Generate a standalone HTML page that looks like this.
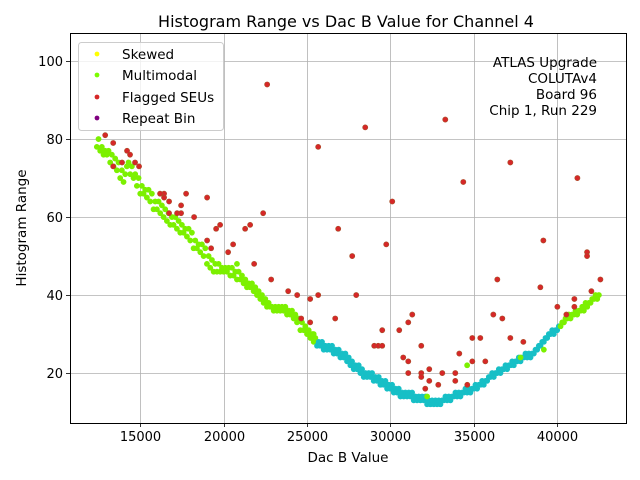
<!DOCTYPE html>
<html><head><meta charset="utf-8"><style>
html,body{margin:0;padding:0;background:#fff;}
svg{display:block;font-family:"DejaVu Sans","Liberation Sans",sans-serif;}
</style></head><body>
<svg id="chart" width="640" height="480" viewBox="0 0 640 480" xmlns="http://www.w3.org/2000/svg">
<rect x="0" y="0" width="640" height="480" fill="#fff"/>
<text x="346" y="27" font-size="16" text-anchor="middle">Histogram Range vs Dac B Value for Channel 4</text>
<g id="grid"></g>
<g id="ticks"></g>
<g id="marks"></g>
<rect x="70.5" y="33.5" width="556" height="390" fill="none" stroke="#000" stroke-width="1"/>
<text x="348" y="462" font-size="13.5" text-anchor="middle">Dac B Value</text>
<text x="26" y="228" font-size="13.5" text-anchor="middle" transform="rotate(-90 26 228)">Histogram Range</text>
<g>
<rect x="78.5" y="42.5" width="145" height="88" rx="3" fill="#fff" fill-opacity="0.8" stroke="#ccc"/>
<circle cx="97" cy="54" r="2.4" fill="#ffff00"/>
<text x="122" y="59" font-size="13.5">Skewed</text>
<circle cx="97" cy="75" r="2.4" fill="#7cfc00"/>
<text x="122" y="80" font-size="13.5">Multimodal</text>
<circle cx="97" cy="97" r="2.4" fill="#d62728"/>
<text x="122" y="102" font-size="13.5">Flagged SEUs</text>
<circle cx="97" cy="118" r="2.4" fill="#800080"/>
<text x="122" y="123" font-size="13.5">Repeat Bin</text>
</g>
<g font-size="13.5" text-anchor="end">
<text x="597" y="67">ATLAS Upgrade</text>
<text x="597" y="83">COLUTAv4</text>
<text x="597" y="99">Board 96</text>
<text x="597" y="115">Chip 1, Run 229</text>
</g>
</svg>
<script>
const xTicks=[15000,20000,25000,30000,35000,40000];
const yTicks=[20,40,60,80,100];
const mainDac=[12400,12600,12800,13000,13200,13400,13600,13800,14000,14200,14400,14600,14800,15000,15200,15400,15600,15800,16000,16200,16400,16600,16800,17000,17200,17400,17600,17800,18000,18200,18400,18600,18800,19000,19200,19400,19600,19800,20000,20200,20400,20600,20800,21000,21200,21400,21600,21800,22000,22200,22400,22600,22800,23000,23200,23400,23600,23800,24000,24200,24400,24600,24800,25000,25200,25400,25600,25800,26000,26200,26400,26600,26800,27000,27200,27400,27600,27800,28000,28200,28400,28600,28800,29000,29200,29400,29600,29800,30000,30200,30400,30600,30800,31000,31200,31400,31600,31800,32000,32200,32400,32600,32800,33000,33200,33400,33600,33800,34000,34200,34400,34600,34800,35000,35200,35400,35600,35800,36000,36200,36400,36600,36800,37000,37200,37400,37600,37800,38000,38200,38400,38600,38800,39000,39200,39400,39600,39800,40000,40200,40400,40600,40800,41000,41200,41400,41600,41800,42000,42200,42400];
const mainHigh=[80,78,77,77,76,75,74,72,71,74,73,71,70,68,67,67,66,64,64,63,62,61,60,60,59,58,57,57,56,54,53,53,52,50,49,48,48,47,47,47,47,46,46,45,44,43,43,42,41,40,39,38,37,37,37,37,37,36,36,35,34,33,32,31,30,29,28,28,27,27,27,26,26,25,25,24,23,22,22,21,20,20,20,19,19,18,18,17,17,16,16,15,15,15,15,14,14,14,14,13,13,13,13,13,14,14,14,15,15,15,16,16,16,17,17,18,18,19,20,20,21,21,22,22,23,23,24,24,25,25,25,26,27,28,29,30,31,31,32,33,34,35,35,36,36,37,38,38,39,40,40];
const mainLow=[78,77,76,76,74,73,72,70,69,73,71,70,68,66,66,65,64,62,62,61,60,59,58,58,57,56,56,55,54,52,52,51,50,48,47,46,46,46,46,46,45,45,44,44,43,42,42,41,40,39,38,37,37,36,36,36,36,35,35,34,33,31,31,30,29,28,27,27,26,26,26,25,25,24,24,23,22,21,21,20,19,19,19,18,18,17,17,16,16,15,15,14,14,14,14,13,13,13,13,12,12,12,12,12,13,13,13,14,14,14,15,15,15,16,16,17,17,18,19,19,20,20,21,21,22,22,23,23,24,24,24,25,26,27,28,29,30,30,31,32,33,34,34,35,35,36,37,37,38,39,39];
const cyanRange=[25600,40000];
const sparseDac=[39200,40400,41600,34600,37800,25400,32200,20800];
const sparseVal=[26,33,36,22,24,30,14,48];
const flaggedDac=[12900,13380,14210,14390,13910,13380,14690,14930,16430,16190,16730,16430,17750,19010,17450,16730,17210,17450,18230,22370,19790,19550,21590,21290,19010,19250,20570,20270,21830,22610,25670,28490,26870,27710,30110,29750,33290,34370,37190,41210,39170,22850,23870,24410,25190,25670,27950,24650,25190,26690,29510,30530,31310,31070,29030,29270,29510,31850,30770,31070,31070,31850,31850,32330,32330,33110,32870,32090,36410,38990,36170,36710,34910,35390,37190,37970,34130,34910,35690,33890,33890,34610,42590,42050,41030,40010,40550,41030,41790,41790];
const flaggedVal=[81,79,77,76,74,73,74,73,66,66,64,65,66,65,63,61,61,61,60,61,58,57,58,57,54,52,53,51,48,94,78,83,57,50,64,53,85,69,74,70,54,44,41,40,39,40,40,34,33,34,31,31,35,33,27,27,27,27,24,23,20,20,19,21,18,20,17,16,44,42,35,34,29,29,29,28,25,23,23,20,18,17,44,41,39,37,35,37,51,50];

const X0=70,X1=626,Y0=423,Y1=33;
const XMIN=10790,XMAX=44125,YMIN=7.2,YMAX=107.2;
function sx(v){return X0+(v-XMIN)/(XMAX-XMIN)*(X1-X0);}
function sy(v){return Y0-(v-YMIN)/(YMAX-YMIN)*(Y0-Y1);}
const NS="http://www.w3.org/2000/svg";
function mk(tag,attrs,parent){const e=document.createElementNS(NS,tag);for(const k in attrs)e.setAttribute(k,attrs[k]);parent.appendChild(e);return e;}
const grid=document.getElementById('grid'),ticks=document.getElementById('ticks'),marks=document.getElementById('marks');
xTicks.forEach(t=>{const x=Math.round(sx(t))+0.5;
 const g=mk('line',{x1:x,x2:x,y1:Y1,y2:Y0,stroke:'#b0b0b0','stroke-width':0.8},grid);
 
 
 mk('line',{x1:x,x2:x,y1:Y0,y2:Y0+4,stroke:'#000','stroke-width':0.8},ticks);
 const l=mk('text',{x:x,y:Y0+18,'font-size':13,'text-anchor':'middle'},ticks);l.textContent=t;
 
 });
yTicks.forEach(t=>{const y=Math.round(sy(t))+0.5;
 const g=mk('line',{x1:X0,x2:X1,y1:y,y2:y,stroke:'#b0b0b0','stroke-width':0.8},grid);
 
 
 mk('line',{x1:X0-4,x2:X0,y1:y,y2:y,stroke:'#000','stroke-width':0.8},ticks);
 const l=mk('text',{x:X0-7,y:y+4.5,'font-size':13,'text-anchor':'end'},ticks);l.textContent=t;
 
 });
function colorFor(d){return (d>=cyanRange[0]&&d<=cyanRange[1])?'#17bfc6':'#7cf000';}
function pt(d,v,fill,stroke,name){const c=mk('circle',{cx:sx(d),cy:sy(v),r:2.6,fill:fill,stroke:stroke,'stroke-width':0.6},marks);
 
 }
mainDac.forEach((d,i)=>{const col=colorFor(d);pt(d,mainLow[i],col,col,'data-point');pt(d+100,mainHigh[i],col,col,'data-point');});
sparseDac.forEach((d,i)=>{pt(d,sparseVal[i],'#7cf000','#7cf000','multimodal-point');});
flaggedDac.forEach((d,i)=>{pt(d,flaggedVal[i],'#d62728','#a8502a','flagged-seu-point');});
</script>
</body></html>
